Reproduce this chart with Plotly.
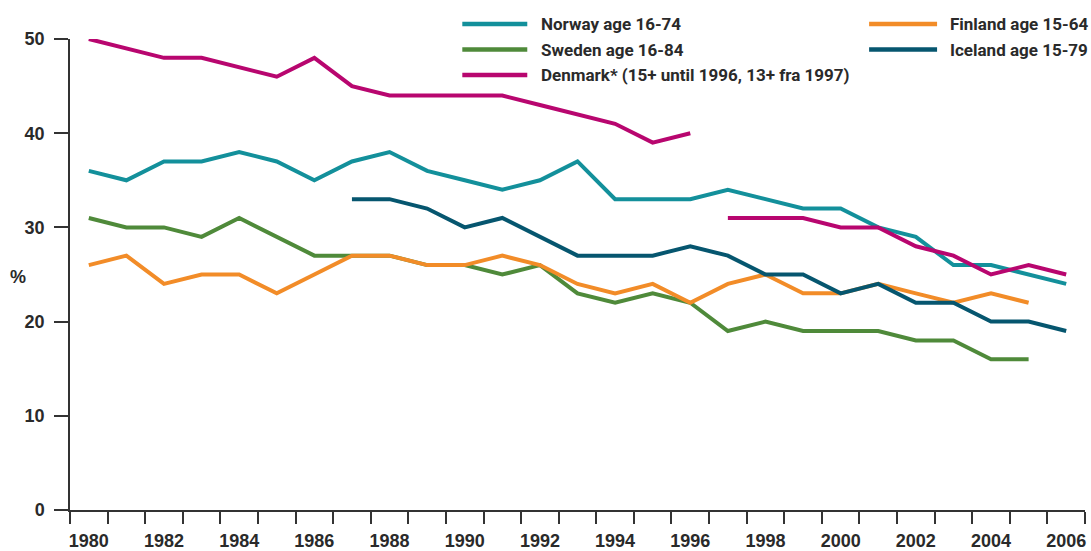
import plotly.graph_objects as go

years_all = list(range(1980, 2007))
years_to_2005 = list(range(1980, 2006))
years_iceland = list(range(1987, 2007))
years_dk1 = list(range(1980, 1997))
years_dk2 = list(range(1997, 2007))

norway = [36, 35, 37, 37, 38, 37, 35, 37, 38, 36, 35, 34, 35, 37, 33, 33, 33, 34, 33, 32, 32, 30, 29, 26, 26, 25, 24]
sweden = [31, 30, 30, 29, 31, 29, 27, 27, 27, 26, 26, 25, 26, 23, 22, 23, 22, 19, 20, 19, 19, 19, 18, 18, 16, 16]
denmark_1 = [50, 49, 48, 48, 47, 46, 48, 45, 44, 44, 44, 44, 43, 42, 41, 39, 40]
denmark_2 = [31, 31, 31, 30, 30, 28, 27, 25, 26, 25]
finland = [26, 27, 24, 25, 25, 23, 25, 27, 27, 26, 26, 27, 26, 24, 23, 24, 22, 24, 25, 23, 23, 24, 23, 22, 23, 22]
iceland = [33, 33, 32, 30, 31, 29, 27, 27, 27, 28, 27, 25, 25, 23, 24, 22, 22, 20, 20, 19]

x_tick_labels = [str(y) for y in range(1980, 2007, 2)]
y_tick_vals = [0, 10, 20, 30, 40, 50]

NAME_NOR = "Norway age 16-74"
NAME_SWE = "Sweden age 16-84"
NAME_DEN = "Denmark* (15+ until 1996, 13+ fra 1997)"
NAME_FIN = "Finland age 15-64"
NAME_ISL = "Iceland age 15-79"

C_NOR = "#13909b"
C_SWE = "#4f8a3a"
C_DEN = "#b8066f"
C_FIN = "#f28c28"
C_ISL = "#06566f"
TXT = "#2a2a2a"

LEG_FONT = dict(family="Noto Sans Condensed, Liberation Sans Narrow, Roboto, sans-serif",
                size=17, color=TXT, weight="bold")
TICK_FONT = dict(family="Liberation Sans, Arial, sans-serif", size=18, color=TXT, weight="bold")

# plot-area geometry (pixels)
W_FIG, H_FIG = 1091, 551
L, R, T, B = 69.5, 6, 39, 41
PW = W_FIG - L - R
PH = H_FIG - T - B


def px2x(px):
    return (px - L) / PW


def py2y(py):
    return (H_FIG - B - py) / PH


fig = go.Figure()
LW = 4

fig.add_trace(go.Scatter(x=years_all, y=norway, mode="lines", name=NAME_NOR,
                         line=dict(color=C_NOR, width=LW), showlegend=False))
fig.add_trace(go.Scatter(x=years_to_2005, y=sweden, mode="lines", name=NAME_SWE,
                         line=dict(color=C_SWE, width=LW), showlegend=False))
fig.add_trace(go.Scatter(x=years_dk1, y=denmark_1, mode="lines", name=NAME_DEN,
                         line=dict(color=C_DEN, width=LW), showlegend=False))
fig.add_trace(go.Scatter(x=years_dk2, y=denmark_2, mode="lines", name=NAME_DEN,
                         line=dict(color=C_DEN, width=LW), showlegend=False))
fig.add_trace(go.Scatter(x=years_to_2005, y=finland, mode="lines", name=NAME_FIN,
                         line=dict(color=C_FIN, width=LW), showlegend=False))
fig.add_trace(go.Scatter(x=years_iceland, y=iceland, mode="lines", name=NAME_ISL,
                         line=dict(color=C_ISL, width=LW), showlegend=False))

# manual two-column legend
legend_items = [
    (NAME_NOR, C_NOR, 462, 527, 541, 24),
    (NAME_SWE, C_SWE, 462, 527, 541, 49.5),
    (NAME_DEN, C_DEN, 462, 527, 541, 75),
    (NAME_FIN, C_FIN, 869, 937, 950, 24),
    (NAME_ISL, C_ISL, 869, 937, 950, 49.5),
]
shapes = []
annotations = []
for name, col, x0, x1, xt, yr in legend_items:
    shapes.append(dict(type="line", xref="paper", yref="paper",
                       x0=px2x(x0), x1=px2x(x1), y0=py2y(yr), y1=py2y(yr),
                       line=dict(color=col, width=4.5)))
    annotations.append(dict(text=name, xref="paper", yref="paper", x=px2x(xt - 2), y=py2y(yr),
                            xanchor="left", yanchor="middle", showarrow=False, font=LEG_FONT))

annotations.append(dict(text="%", xref="paper", yref="paper", x=px2x(17), y=py2y(277),
                        showarrow=False, font=TICK_FONT, xanchor="center", yanchor="middle"))

fig.update_layout(
    width=W_FIG, height=H_FIG,
    margin=dict(l=L, r=R, t=T, b=B, autoexpand=False),
    paper_bgcolor="white", plot_bgcolor="white",
    showlegend=False,
    shapes=shapes,
    annotations=annotations,
)

fig.update_xaxes(
    range=[1979.5, 2006.5],
    tickmode="array", tickvals=list(range(1980, 2007, 2)), ticktext=x_tick_labels,
    ticks="", ticklabelstandoff=14,
    minor=dict(tickmode="linear", tick0=1979.5, dtick=1, ticks="outside", ticklen=12,
               tickwidth=1.5, tickcolor="#333333", showgrid=False),
    showline=True, linecolor="#333333", linewidth=1.5,
    showgrid=False, zeroline=False, tickfont=TICK_FONT, fixedrange=True, automargin=False,
)
fig.update_yaxes(
    range=[0, 50], tickmode="array", tickvals=y_tick_vals,
    ticks="outside", ticklen=14, tickwidth=1.5, tickcolor="#333333", ticklabelstandoff=6,
    showline=True, linecolor="#333333", linewidth=1.5,
    showgrid=False, zeroline=False, tickfont=TICK_FONT, fixedrange=True, automargin=False,
)

fig.write_html("out.html", config=dict(displayModeBar=False),
               post_script="document.body.style.margin='0';document.body.style.overflow='hidden';")
